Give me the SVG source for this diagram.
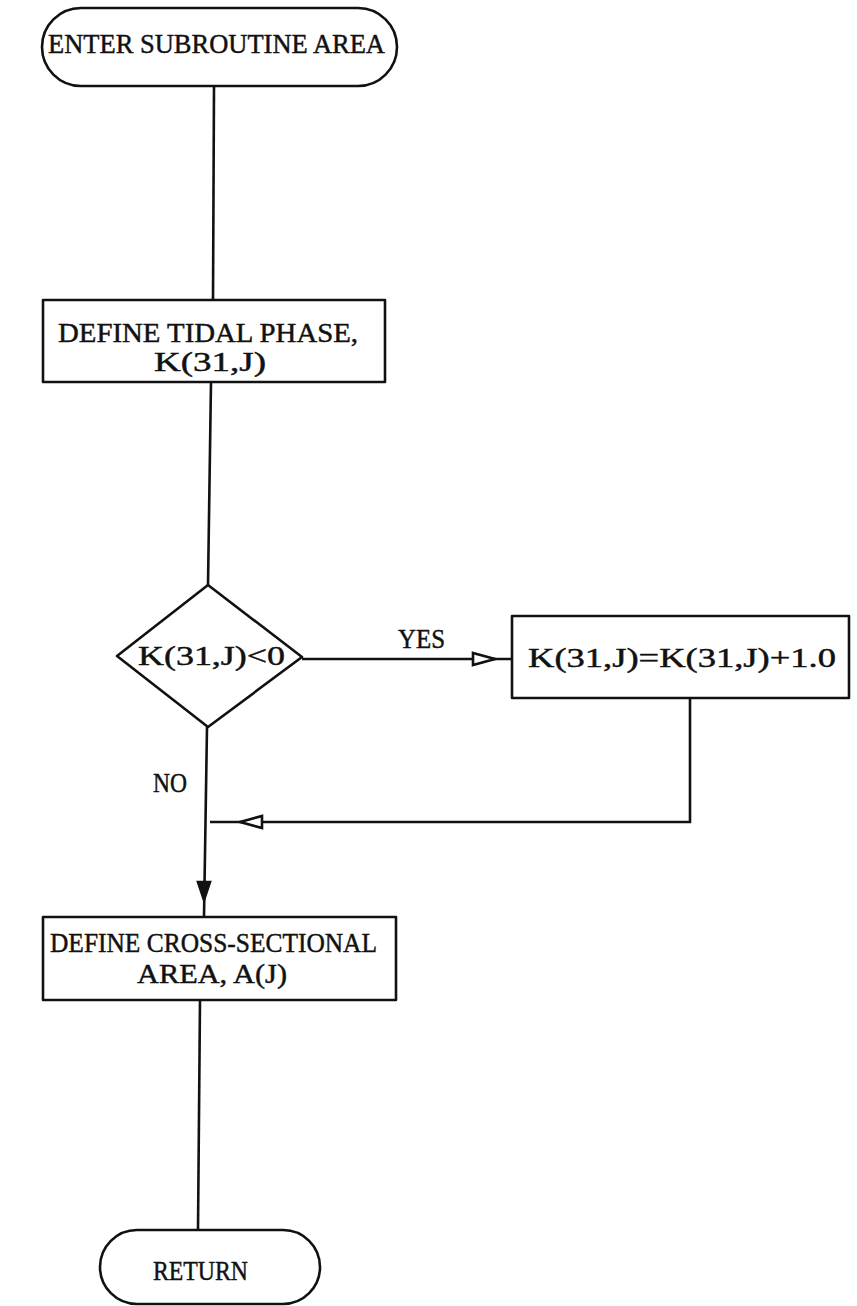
<svg xmlns="http://www.w3.org/2000/svg" width="857" height="1306" viewBox="0 0 857 1306">
<style>
.shape{fill:#fff;stroke:#111;stroke-width:2.6;stroke-linejoin:round}
.line{fill:none;stroke:#111;stroke-width:2.6}
.arrow{fill:#fff;stroke:#111;stroke-width:2.6;stroke-linejoin:miter}
.t{font-family:"Liberation Serif","Times New Roman",serif;font-size:27px;fill:#111;stroke:#111;stroke-width:0.45}
</style>
<rect width="857" height="1306" fill="#fff"/>
<g id="connectors">
<line class="line" x1="214" y1="86" x2="213" y2="300"/>
<line class="line" x1="211" y1="382" x2="208" y2="585"/>
<line class="line" x1="302" y1="659" x2="512" y2="659"/>
<polygon class="arrow" points="495,659 473,653 473,665"/>
<polyline class="line" points="690,698 690,822 210,822"/>
<polygon class="arrow" points="240,822 262,816 262,828"/>
<line class="line" x1="207" y1="727" x2="204" y2="917"/>
<polygon class="arrow" points="204,900 198,882 210,882" style="fill:#111"/>
<line class="line" x1="200" y1="1000" x2="198" y2="1230"/>
<text class="t" x="153" y="792" textLength="34" lengthAdjust="spacingAndGlyphs">NO</text>
<text class="t" x="398" y="648" textLength="47" lengthAdjust="spacingAndGlyphs">YES</text>
</g>
<g id="start">
<rect class="shape" x="42" y="8" width="355" height="78" rx="39" ry="39"/>
<text class="t" x="48" y="53" textLength="337" lengthAdjust="spacingAndGlyphs">ENTER SUBROUTINE AREA</text>
</g>
<g id="tidal-phase">
<rect class="shape" x="43" y="300" width="342" height="82"/>
<text class="t" x="58" y="342" textLength="300" lengthAdjust="spacingAndGlyphs">DEFINE TIDAL PHASE,</text>
<text class="t" x="154" y="371" textLength="112" lengthAdjust="spacingAndGlyphs">K(31,J)</text>
</g>
<g id="decision">
<polygon class="shape" points="208,585 302,657 208,727 117,656"/>
<text class="t" x="138" y="665" textLength="147" lengthAdjust="spacingAndGlyphs">K(31,J)&lt;0</text>
</g>
<g id="increment">
<rect class="shape" x="512" y="616" width="337" height="82"/>
<text class="t" x="528" y="667" textLength="308" lengthAdjust="spacingAndGlyphs">K(31,J)=K(31,J)+1.0</text>
</g>
<g id="cross-section">
<rect class="shape" x="43" y="917" width="353" height="83"/>
<text class="t" x="50" y="952" textLength="327" lengthAdjust="spacingAndGlyphs">DEFINE CROSS-SECTIONAL</text>
<text class="t" x="137" y="983" textLength="150" lengthAdjust="spacingAndGlyphs">AREA, A(J)</text>
</g>
<g id="return">
<rect class="shape" x="100" y="1230" width="220" height="74" rx="37" ry="37"/>
<text class="t" x="153" y="1280" textLength="95" lengthAdjust="spacingAndGlyphs">RETURN</text>
</g>
</svg>
